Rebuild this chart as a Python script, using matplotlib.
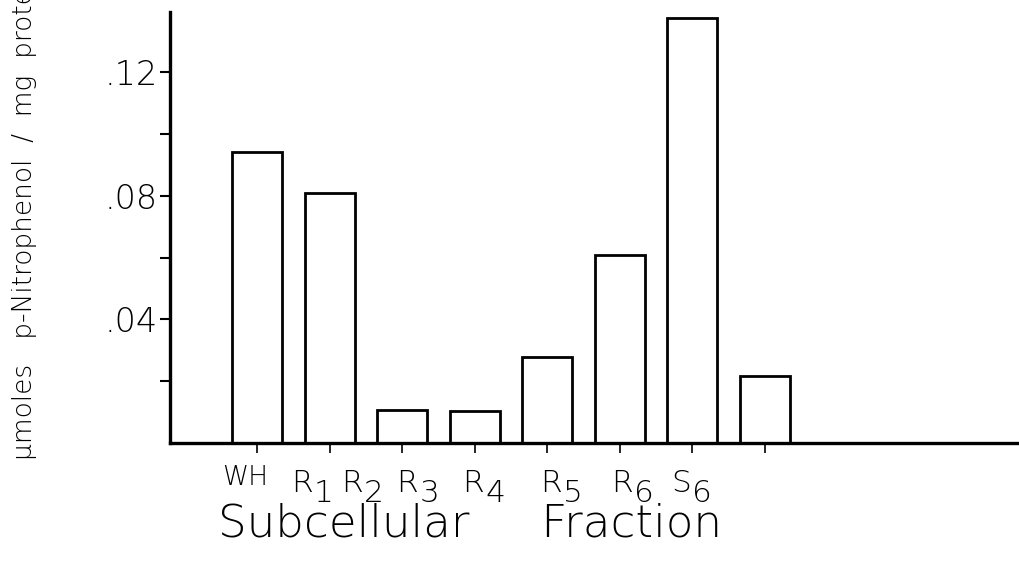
import numpy as np
import matplotlib.pyplot as plt

# specific activity per fraction
fraction_base = ['WH', 'R', 'R', 'R', 'R', 'R', 'R', 'S']
fraction_sub = ['', '1', '2', '3', '4', '5', '6', '6']
activity = [0.0942, 0.0809, 0.0107, 0.0104, 0.0278, 0.0608, 0.1375, 0.0217]

yticks = [0.02, 0.04, 0.06, 0.08, 0.10, 0.12]
ytick_labels = ['', '.04', '', '.08', '', '.12']

# hand-lettered labels start a little left of each bar (data x of left edge)
label_left = [-0.48, 0.47, 1.16, 1.92, 2.83, 3.90, 4.88, 5.71]

plt.rcParams['font.family'] = ['DejaVu Sans']

fig = plt.figure(figsize=(10.19, 5.82), dpi=100)
ax = fig.add_axes([0.1668, 0.2388, 0.8332, 0.7406])

x = np.arange(len(activity))
ax.bar(x, activity, width=0.69, facecolor='white', edgecolor='black', linewidth=2.0)

ax.set_xlim(-1.2, 10.5)
ax.set_ylim(0, 0.1395)
for s in ['top', 'right']:
    ax.spines[s].set_visible(False)
for s in ['left', 'bottom']:
    ax.spines[s].set_linewidth(2.4)

ax.set_yticks(yticks, ytick_labels, fontsize=24, fontweight='light')
ax.tick_params(axis='y', length=7, width=1.5, pad=2)
ax.set_xticks(x, [])
ax.tick_params(axis='x', length=7, width=1.2, direction='out')

# category labels: letter plus a large dropped subscript
trans = ax.get_xaxis_transform()
for lx, base, sub in zip(label_left, fraction_base, fraction_sub):
    size = 19 if base == 'WH' else 22.5
    yb = -0.097 if base == 'WH' else -0.113
    t = ax.text(lx, yb, base, transform=trans, ha='left', va='baseline',
                fontsize=size, fontweight='light')
    if sub:
        ax.annotate(sub, xy=(1, 0), xycoords=t, xytext=(1, -4),
                    textcoords='offset pixels', ha='left', va='baseline',
                    fontsize=22.5, fontweight='light')

fig.text(0.461, 0.10, 'Subcellular     Fraction', ha='center', va='center',
         fontsize=32.5, fontweight='light')
fig.text(0.024, 0.21, '\u00b5moles   p-Nitrophenol  /  mg  protein', rotation=90,
         rotation_mode='anchor', ha='left', va='center', fontsize=19,
         fontweight='light')

fig.savefig('out.png', dpi=100)
